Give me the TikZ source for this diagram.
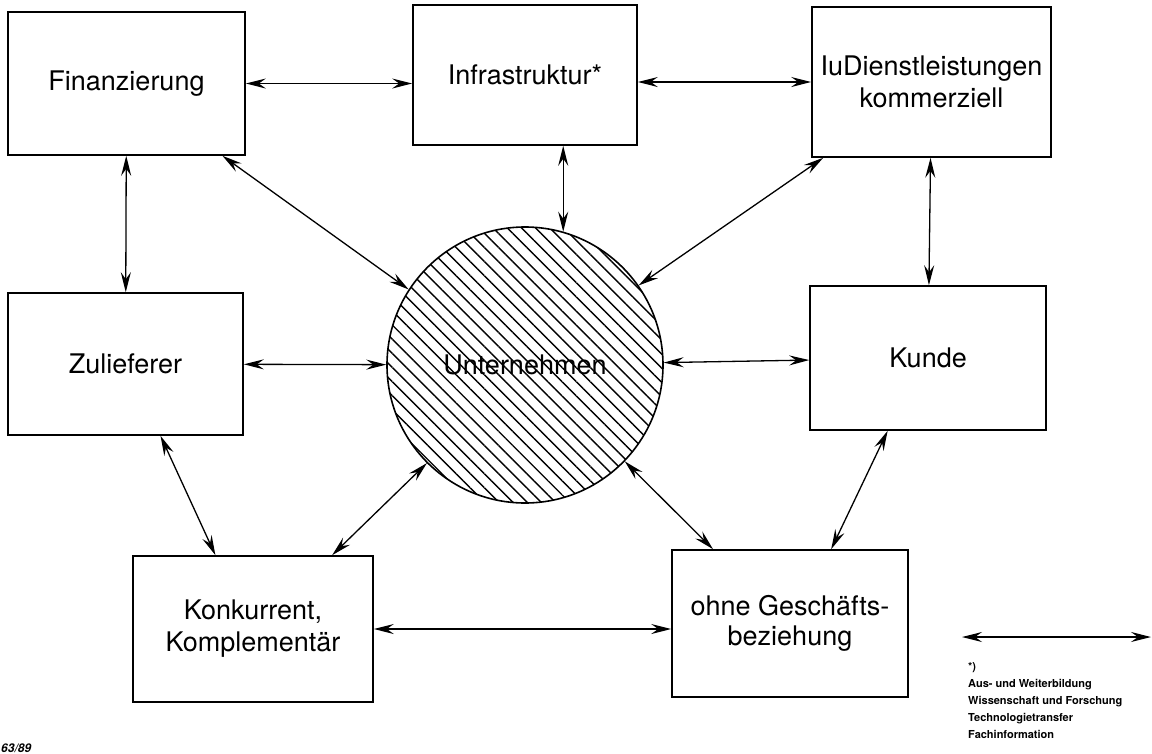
\documentclass[tikz,border=0pt]{standalone}
\usepackage{fontspec}
\setmainfont{TeX Gyre Heros}
\usetikzlibrary{arrows.meta}
\usetikzlibrary{positioning}
\usetikzlibrary{patterns.meta}

\tikzset{
  box/.style={draw, line width=1.6pt, inner sep=0pt, align=center,
              font=\fontsize{27}{32}\selectfont},
  firm/.style={circle, draw, line width=1.6pt, inner sep=0pt,
               minimum size=276pt, font=\fontsize{27}{32}\selectfont,
               pattern={Lines[angle=-45,distance=10pt,line width=1.4pt]}},
  legend/.style={inner sep=0pt, align=left, font=\fontsize{11}{17}\selectfont\bfseries},
  >={Stealth[length=20pt,width=10pt,inset=7pt]}
}

\begin{document}
\begin{tikzpicture}[x=1pt, y=-1pt]
                \useasboundingbox (0,0) rectangle (1152,753);

                \node[firm] (unt) at (525,365) {Unternehmen};

                \node[box, minimum width=237pt, minimum height=143pt] (fin) at (126.5,83.5) {Finanzierung};
                \node[box, minimum width=224pt, minimum height=140pt] (inf) at (525,75) {Infrastruktur*};
                \node[box, minimum width=239pt, minimum height=150pt] (iud) at (931.5,82) {IuDienstleistungen\\kommerziell};
                \node[box, minimum width=235pt, minimum height=142pt] (zul) at (125.5,364) {Zulieferer};
                \node[box, minimum width=236pt, minimum height=144pt] (kun) at (928,358) {Kunde};
                \node[box, minimum width=240pt, minimum height=146pt] (kon) at (253,629) {Konkurrent,\\Komplementär};
                \node[box, minimum width=236pt, minimum height=147pt, font=\fontsize{27}{30}\selectfont] (ohn) at (790,623.5) {ohne Geschäfts-\\beziehung};

                % Legende
                \coordinate (leg_a) at (962,637);
                \coordinate (leg_b) at (1151,637);
                \node[legend, anchor=north west] (leg) at (968,662)
                    {*)\\Aus- und Weiterbildung\\Wissenschaft und Forschung\\Technologietransfer\\Fachinformation};
                \node[inner sep=0pt, anchor=base west, font=\fontsize{12}{14}\selectfont\bfseries\itshape] (nr) at (1,752) {63/89};

                \path[<->, line width=1.3pt]
                    (fin.east) edge (fin.east -| inf.west)
                    (iud.west) edge (iud.west -| inf.east)
                    (fin) edge (zul)
                    (iud) edge (kun)
                    (fin.-37) edge (unt.147)
                    (unt.74 |- inf.south) edge (unt.74)
                    (iud.215) edge (unt.35)
                    (zul) edge (unt)
                    (kun) edge (unt)
                    (zul.-64) edge (kon.117)
                    (kon.43) edge (unt.225)
                    (unt.-44) edge (ohn.136)
                    (kun.241) edge (ohn.61)
                    (kon.east) edge (kon.east -| ohn.west)
                    (leg_a) edge (leg_b);

\end{tikzpicture}
\end{document}
